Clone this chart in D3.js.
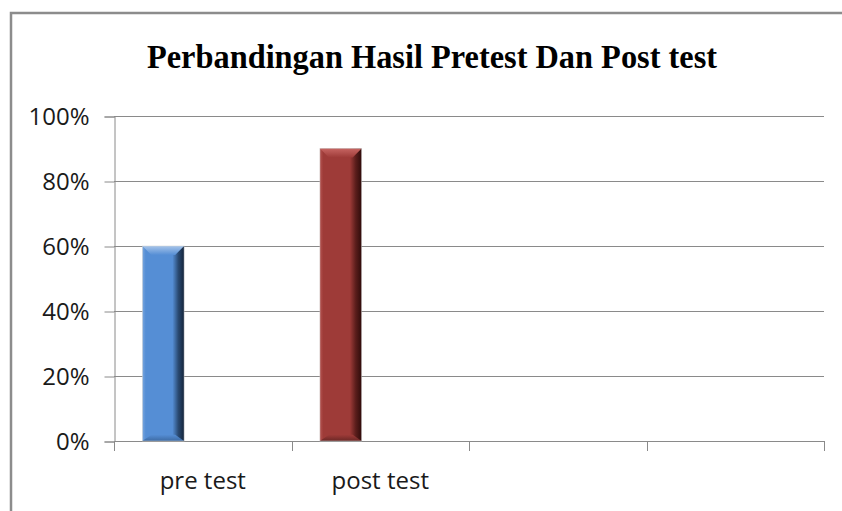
<!DOCTYPE html>
<html>
<head>
<meta charset="utf-8">
<script src="https://cdn.jsdelivr.net/npm/d3@7"></script>
<style>
  html, body { margin: 0; padding: 0; background: #fff; }
  svg { display: block; }
</style>
</head>
<body>
<script>
// ---- data ----
const title = "Perbandingan Hasil Pretest Dan Post test";
const categories = ["pre test", "post test", "", ""];
const values = [0.60, 0.90, null, null];
const yTicks = [0, 0.2, 0.4, 0.6, 0.8, 1.0];

// ---- styles ----
const palettes = [
  { light: "#a6c4ea", main: "#558ed5", edgeL: "#78a6de", dark: "#2a4a72", darkest: "#14243a", bottom: "#3d6aa3" },
  { light: "#c76562", main: "#9e3b38", edgeL: "#b45451", dark: "#5a1d1b", darkest: "#2e0b0a", bottom: "#6a2725" }
];
const W = 842, H = 511;
const plot = { left: 114, right: 824, top: 116, bottom: 441 };
const gridColor = "#8a8a8a";
const labelFont = "'Open Sans', 'Noto Sans', sans-serif";

const svg = d3.select("body").append("svg").attr("width", W).attr("height", H);
svg.append("rect").attr("width", W).attr("height", H).attr("fill", "#fff");

// chart border (top & left visible)
svg.append("path")
  .attr("d", `M11,${H} L11,13 L${W},13`)
  .attr("fill", "none").attr("stroke", "#8c8c8c").attr("stroke-width", 2.5);

// title
svg.append("text")
  .attr("x", 432).attr("y", 68)
  .attr("text-anchor", "middle")
  .attr("font-family", "'Times New Roman', 'Liberation Serif', serif")
  .attr("font-weight", "bold").attr("font-size", 33)
  .attr("textLength", 570).attr("lengthAdjust", "spacingAndGlyphs")
  .attr("fill", "#000")
  .text(title);

const x = d3.scaleBand().domain(d3.range(categories.length)).range([plot.left, plot.right]).padding(0);
const y = d3.scaleLinear().domain([0, 1]).range([plot.bottom, plot.top]);

// gridlines
svg.append("g").selectAll("line").data(yTicks).join("line")
  .attr("x1", plot.left).attr("x2", plot.right)
  .attr("y1", d => Math.round(y(d)) + 0.5).attr("y2", d => Math.round(y(d)) + 0.5)
  .attr("stroke", gridColor).attr("stroke-width", 1);

// y axis
const yAxis = svg.append("g").attr("transform", `translate(${plot.left + 0.5},0.5)`)
  .call(d3.axisLeft(y).tickValues(yTicks).tickFormat(d3.format(".0%")).tickSize(10).tickPadding(15));
yAxis.select(".domain").attr("stroke", gridColor);
yAxis.selectAll(".tick line").attr("stroke", gridColor);
yAxis.selectAll(".tick text").attr("font-family", labelFont).attr("font-size", 24).attr("fill", "#1a1a1a");

// x axis boundary ticks
const bounds = d3.range(categories.length + 1).map(i => i < categories.length ? x(i) : plot.right);
svg.append("g").selectAll("line").data(bounds).join("line")
  .attr("x1", d => Math.round(d) + 0.5).attr("x2", d => Math.round(d) + 0.5)
  .attr("y1", plot.bottom).attr("y2", plot.bottom + 10)
  .attr("stroke", gridColor);

// x labels
const xAxis = svg.append("g").attr("transform", `translate(0,${plot.bottom})`)
  .call(d3.axisBottom(x).tickSize(0).tickPadding(31).tickFormat(i => categories[i]));
xAxis.select(".domain").remove();
xAxis.selectAll(".tick text").attr("font-family", labelFont).attr("font-size", 24).attr("fill", "#1a1a1a");

// gradients
const defs = svg.append("defs");
palettes.forEach((p, i) => {
  const g = defs.append("linearGradient").attr("id", "side" + i).attr("x1", 0).attr("x2", 1).attr("y1", 0).attr("y2", 0);
  [[0, p.edgeL], [0.08, p.main], [0.72, p.main], [0.86, p.dark], [1, p.darkest]].forEach(([o, c]) =>
    g.append("stop").attr("offset", o).attr("stop-color", c));
  const t = defs.append("linearGradient").attr("id", "top" + i).attr("x1", 0).attr("x2", 0).attr("y1", 0).attr("y2", 1);
  [[0, p.light], [1, p.main]].forEach(([o, c]) => t.append("stop").attr("offset", o).attr("stop-color", c));
  const b = defs.append("linearGradient").attr("id", "bot" + i).attr("x1", 0).attr("x2", 0).attr("y1", 0).attr("y2", 1);
  [[0, p.main], [1, p.bottom]].forEach(([o, c]) => b.append("stop").attr("offset", o).attr("stop-color", c));
});

// bars
const barOffset = 0.16, barFrac = 0.235, bevel = 9;
const bars = svg.append("g").selectAll("g")
  .data(values.map((v, i) => ({ v, i })).filter(d => d.v != null))
  .join("g");
bars.each(function (d) {
  const g = d3.select(this);
  const x0 = x(d.i) + x.bandwidth() * barOffset;
  const x1 = x0 + x.bandwidth() * barFrac;
  const yT = y(d.v), yB = y(0);
  g.append("rect").attr("x", x0).attr("y", yT).attr("width", x1 - x0).attr("height", yB - yT)
    .attr("fill", `url(#side${d.i})`);
  g.append("path")
    .attr("d", `M${x0},${yT} L${x1},${yT} L${x1 - bevel},${yT + bevel} L${x0 + bevel},${yT + bevel} Z`)
    .attr("fill", `url(#top${d.i})`);
  g.append("path")
    .attr("d", `M${x0},${yB} L${x1},${yB} L${x1 - bevel},${yB - bevel * 0.7} L${x0 + bevel},${yB - bevel * 0.7} Z`)
    .attr("fill", `url(#bot${d.i})`);
  g.append("rect").attr("x", x0).attr("y", yT).attr("width", x1 - x0).attr("height", yB - yT)
    .attr("fill", "none").attr("stroke", "#d0d0d0").attr("stroke-width", 0.8).attr("stroke-opacity", 0.6);
});
</script>
</body>
</html>
